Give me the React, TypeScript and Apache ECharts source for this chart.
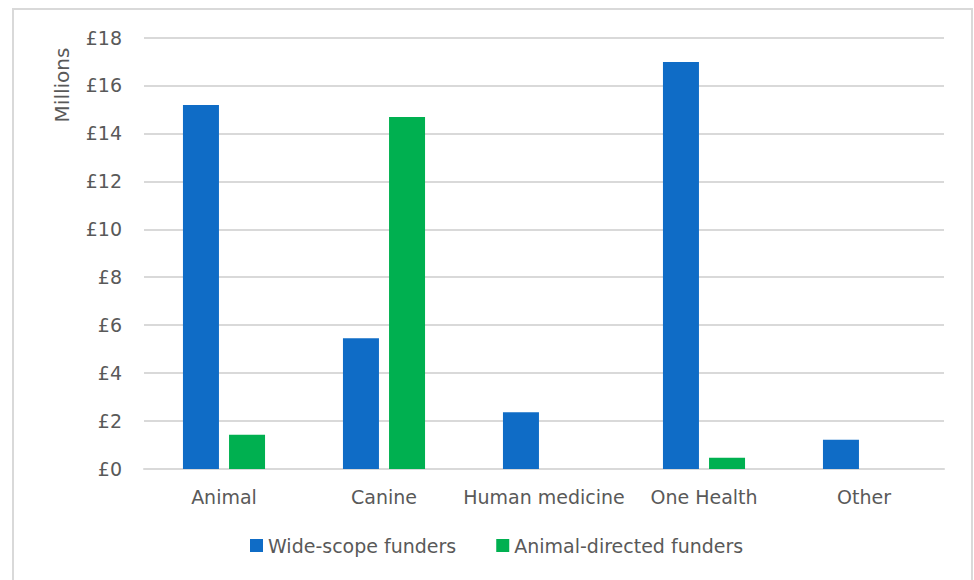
import React, { useEffect, useRef } from "react";
import * as echarts from "echarts";

const categories = ["Animal", "Canine", "Human medicine", "One Health", "Other"];
const wideScope = [15.18, 5.45, 2.37, 16.98, 1.22];
const animalDirected = [1.43, 14.68, 0, 0.47, 0];
const seriesNames = ["Wide-scope funders", "Animal-directed funders"];
const yTicks = { min: 0, max: 18, interval: 2 };
const axisTitle = "Millions";

const FONT = "DejaVu Sans";
const LABEL = "#595959";

export default function App() {
  const ref = useRef<HTMLDivElement>(null);
  useEffect(() => {
    if (!ref.current) return;
    const chart = echarts.init(ref.current, null, { renderer: "svg" });
    chart.setOption({
      animation: false,
      backgroundColor: "#ffffff",
      textStyle: { fontFamily: FONT },
      grid: { left: 144, right: 30, top: 37.5, bottom: 111, containLabel: false },
      graphic: [
        {
          type: "rect",
          shape: { x: 13, y: 9, width: 959, height: 590 },
          style: { fill: "none", stroke: "#d9d9d9", lineWidth: 2 },
          silent: true,
        },
        {
          type: "text",
          x: 62,
          y: 85,
          rotation: Math.PI / 2,
          style: {
            text: axisTitle,
            fontFamily: FONT,
            fontSize: 20,
            fill: LABEL,
            align: "center",
            verticalAlign: "middle",
          },
        },
      ],
      legend: {
        data: seriesNames,
        bottom: 20,
        left: 245,
        itemWidth: 13,
        itemHeight: 13,
        itemGap: 40,
        icon: "rect",
        textStyle: { fontFamily: FONT, fontSize: 19, color: LABEL },
      },
      xAxis: {
        type: "category",
        data: categories,
        axisLine: { lineStyle: { color: "#d9d9d9", width: 2 } },
        axisTick: { show: false },
        axisLabel: { color: LABEL, fontFamily: FONT, fontSize: 19, margin: 18, interval: 0 },
      },
      yAxis: {
        type: "value",
        min: yTicks.min,
        max: yTicks.max,
        interval: yTicks.interval,
        axisLine: { show: false },
        axisTick: { show: false },
        splitLine: { lineStyle: { color: "#d9d9d9", width: 2 } },
        axisLabel: {
          color: LABEL,
          fontFamily: FONT,
          fontSize: 19,
          margin: 22,
          formatter: (v: number) => "£" + v,
        },
      },
      series: [
        {
          name: seriesNames[0],
          type: "bar",
          data: wideScope,
          barWidth: 36,
          barGap: "28%",
          itemStyle: { color: "#0F6CC6" },
        },
        {
          name: seriesNames[1],
          type: "bar",
          data: animalDirected,
          barWidth: 36,
          barGap: "28%",
          itemStyle: { color: "#00B050" },
        },
      ],
    });
    return () => chart.dispose();
  }, []);
  return (
    <div
      ref={ref}
      style={{ position: "absolute", left: 0, top: 0, width: 974, height: 580 }}
    />
  );
}
